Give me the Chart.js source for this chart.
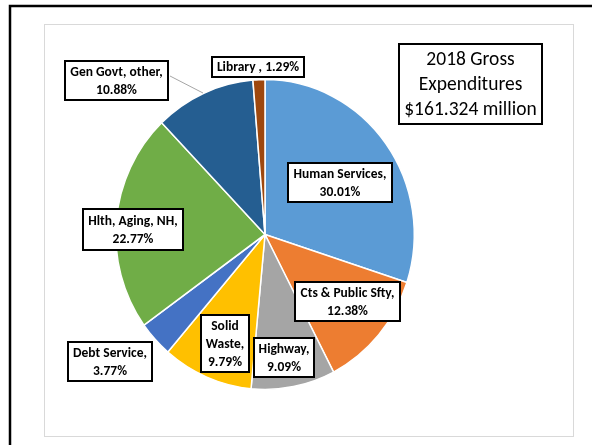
<!DOCTYPE html>
<html>
<head>
<meta charset="utf-8">
<script src="https://cdn.jsdelivr.net/npm/chart.js@4"></script>
<style>
  html, body { margin: 0; padding: 0; background: #fff; }
  canvas { display: block; }
</style>
</head>
<body>
<canvas id="pieCanvas" width="592" height="445"></canvas>
<script>
// data
const categories = ["Human Services", "Cts & Public Sfty", "Highway", "Solid Waste",
                    "Debt Service", "Hlth, Aging, NH", "Gen Govt, other", "Library "];
const shares = [30.01, 12.38, 9.09, 9.79, 3.77, 22.77, 10.88, 1.29];
const sliceColors = ["#5B9BD5", "#ED7D31", "#A5A5A5", "#FFC000",
                     "#4472C4", "#70AD47", "#255E91", "#9E480E"];
const titleLines = ["2018 Gross", "Expenditures", "$161.324 million"];

// where each data label box sits (same order as categories)
const labelBoxes = [
    { x: 288, y: 163, w: 104, h: 39 },
    { x: 295, y: 282, w: 105, h: 39 },
    { x: 254, y: 338, w: 60, h: 39 },
    { x: 201, y: 315, w: 48, h: 57 },
    { x: 68, y: 342, w: 84, h: 39 },
    { x: 83, y: 209, w: 100, h: 41 },
    { x: 65, y: 61, w: 103, h: 39 },
    { x: 212, y: 57, w: 92, h: 20 }
];
const leader = { from: [170, 76], to: [203, 93] };
const titleBox = { x: 399, y: 44, w: 143, h: 80 };
const stretchY = 1.038; // the source picture is slightly taller than wide

const labelFont = "bold 13.5px Carlito, Lato, sans-serif";

function wrap(ctx, text, maxW) {
    const words = text.split(" ");
    const lines = [];
    let cur = "";
    words.forEach(w => {
        const test = cur ? cur + " " + w : w;
        if (cur && ctx.measureText(test).width > maxW) {
            lines.push(cur);
            cur = w;
        } else {
            cur = test;
        }
    });
    if (cur) lines.push(cur);
    return lines;
}

const framePlugin = {
    id: "frame",
    beforeDraw(chart) {
        const ctx = chart.ctx;
        ctx.save();
        ctx.fillStyle = "#fff";
        ctx.fillRect(0, 0, chart.width, chart.height);
        ctx.strokeStyle = "#D9D9D9";
        ctx.lineWidth = 1;
        ctx.strokeRect(44.5, 24.5, 529, 412);
        ctx.strokeStyle = "#000";
        ctx.lineWidth = 2.5;
        ctx.strokeRect(10, 6, 620, 480);
        ctx.restore();
    },
    beforeDatasetsDraw(chart) {
        const ctx = chart.ctx;
        const a = chart.chartArea;
        const cy = (a.top + a.bottom) / 2;
        ctx.save();
        ctx.translate(0, cy);
        ctx.scale(1, stretchY);
        ctx.translate(0, -cy);
    },
    afterDatasetsDraw(chart) {
        const ctx = chart.ctx;
        ctx.restore();
        const ds = chart.data.datasets[0];
        ctx.save();
        // leader line
        ctx.strokeStyle = "#A6A6A6";
        ctx.lineWidth = 1;
        ctx.beginPath();
        ctx.moveTo(leader.from[0], leader.from[1]);
        ctx.lineTo(leader.to[0], leader.to[1]);
        ctx.stroke();

        ctx.font = labelFont;
        ctx.textAlign = "center";
        ctx.textBaseline = "middle";
        chart.data.labels.forEach((name, i) => {
            const b = labelBoxes[i];
            ctx.fillStyle = "#fff";
            ctx.fillRect(b.x, b.y, b.w, b.h);
            ctx.strokeStyle = "#000";
            ctx.lineWidth = 2;
            ctx.strokeRect(b.x, b.y, b.w, b.h);
            const pct = ds.data[i].toFixed(2) + "%";
            const full = name + ", " + pct;
            let lines;
            if (b.h < 30) lines = [full];
            else lines = wrap(ctx, name + ",", b.w - 4).concat([pct]);
            const lh = 18;
            const top = b.y + b.h / 2 - (lines.length - 1) * lh / 2;
            ctx.fillStyle = "#000";
            lines.forEach((l, k) => ctx.fillText(l, b.x + b.w / 2, top + k * lh + 1, b.w - 4));
        });

        // title box
        const t = titleBox;
        ctx.fillStyle = "#fff";
        ctx.fillRect(t.x, t.y, t.w, t.h);
        ctx.strokeStyle = "#000";
        ctx.lineWidth = 2;
        ctx.strokeRect(t.x, t.y, t.w, t.h);
        ctx.font = "19.5px Carlito, Lato, sans-serif";
        ctx.fillStyle = "#000";
        titleLines.forEach((l, k) => ctx.fillText(l, t.x + t.w / 2, t.y + 16 + k * 25, t.w - 4));
        ctx.restore();
    }
};

new Chart(document.getElementById("pieCanvas"), {
    type: "pie",
    data: {
        labels: categories,
        datasets: [{
            data: shares,
            backgroundColor: sliceColors,
            borderColor: "#fff",
            borderWidth: 1.5
        }]
    },
    options: {
        responsive: false,
        animation: false,
        layout: { padding: { left: 115, right: 177, top: 84.5, bottom: 60.5 } },
        plugins: {
            legend: { display: false },
            tooltip: { enabled: false }
        }
    },
    plugins: [framePlugin]
});
</script>
</body>
</html>
